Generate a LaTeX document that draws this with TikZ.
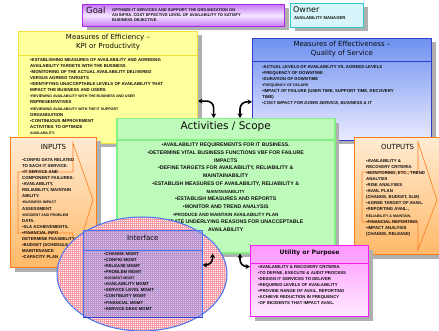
\documentclass[tikz,border=0pt]{standalone}
\usepackage{fontspec}
\setmainfont{Liberation Sans}
\newfontfamily\titlefont{DejaVu Sans}
\usepackage{tikz}
\usetikzlibrary{calc,positioning,shadows,patterns.meta,arrows.meta}
\definecolor{shadowgray}{RGB}{175,175,175}
\definecolor{goalborder}{RGB}{170,40,230}
\definecolor{goaldark}{RGB}{200,120,245}
\definecolor{goallight}{RGB}{245,230,255}
\definecolor{ownerborder}{RGB}{40,200,205}
\definecolor{ownerfill}{RGB}{215,245,250}
\definecolor{effborder}{RGB}{240,225,60}
\definecolor{effyellow}{RGB}{255,255,155}
\definecolor{qosborder}{RGB}{50,60,200}
\definecolor{qostop}{RGB}{110,145,240}
\definecolor{qosbottom}{RGB}{235,235,255}
\definecolor{actborder}{RGB}{130,240,130}
\definecolor{actfill}{RGB}{190,250,185}
\definecolor{ioborder}{RGB}{255,125,30}
\definecolor{iotop}{RGB}{255,235,210}
\definecolor{iobottom}{RGB}{255,185,105}
\definecolor{utilborder}{RGB}{250,30,250}
\definecolor{utiltop}{RGB}{255,150,255}
\definecolor{utilbottom}{RGB}{255,235,255}
\definecolor{ifaceblue}{RGB}{70,115,240}
\definecolor{ifacefill}{RGB}{140,140,240}
\definecolor{hatchred}{RGB}{245,155,165}
\definecolor{headtext}{RGB}{10,10,10}
\definecolor{bodytext}{RGB}{15,15,15}

\begin{document}
\begin{tikzpicture}[x=1pt,y=-1pt,
    box/.style={draw, line width=1pt, inner sep=0pt, anchor=north west,
      drop shadow={shadow xshift=4pt,shadow yshift=-4pt,fill=shadowgray,opacity=1}},
    head/.style={font=\titlefont\fontsize{7}{9}\selectfont, align=center, inner sep=0pt, anchor=north, text=headtext},
    body/.style={font=\fontsize{4.3}{6.1}\selectfont\bfseries, align=left, inner sep=0pt, anchor=north west, text=bodytext},
    dblarrow/.style={{Stealth[length=4.5pt,width=5pt]}-{Stealth[length=4.5pt,width=5pt]}, line width=1.6pt, rounded corners=7pt}
  ]
  \useasboundingbox[fill=white] (0,0) rectangle (439,331);

  % goal and owner
  \node[box, draw=goalborder, top color=goaldark, bottom color=goaldark, middle color=goallight,
    minimum width=202pt, minimum height=22pt] (goal) at (82,4) {};
  \node[font=\titlefont\fontsize{8.5}{9}\selectfont, text=headtext, anchor=west, inner sep=0pt] (goalT) at ([xshift=4pt,yshift=-6pt]goal.north west) {Goal};
  \node[body, font=\fontsize{4}{5}\selectfont\bfseries] (goaltext) at ([xshift=30pt,yshift=-4.5pt]goal.north west)
    {OPTIMIZE IT SERVICES AND SUPPORT THE ORGANIZATION ON\\
     AN INFRA. COST EFFECTIVE LEVEL OF AVAILABILITY TO SATISFY\\
     BUSINESS OBJECTIVE};
  \node[box, draw=ownerborder, fill=ownerfill, minimum width=73pt, minimum height=24pt] (owner) at (290,3) {};
  \node[font=\titlefont\fontsize{8}{9}\selectfont, text=headtext, anchor=west, inner sep=0pt] (ownerT) at ([xshift=3pt,yshift=-6.5pt]owner.north west) {Owner};
  \node[body, font=\fontsize{4.2}{5}\selectfont\bfseries] (ownertext) at ([xshift=4pt,yshift=-13pt]owner.north west) {AVAILABILITY MANAGER};

  % measures of efficiency
  \node[box, draw=effborder, fill=effyellow, minimum width=179pt, minimum height=112pt] (eff) at (18,31) {};
  \draw[effborder, line width=1pt] ([yshift=-25pt]eff.north west) -- ([yshift=-25pt]eff.north east);
  \node[head] (effT) at ([yshift=-3pt]eff.north) {Measures of Efficiency –\\KPI or Productivity};
  \node[body] (efftext) at ([xshift=12pt,yshift=-27pt]eff.north west)
    {•ESTABLISHING MEASURES OF AVAILABILITY AND AGREEING\\
     AVAILABILITY TARGETS WITH THE BUSINESS\\
     •MONITORING OF THE ACTUAL AVAILABILITY DELIVERED\\
     VERSUS AGREED TARGETS\\
     •IDENTIFYING UNACCEPTABLE LEVELS OF AVAILABILITY THAT\\
     IMPACT THE BUSINESS AND USERS\\
     {\fontsize{3.6}{6.1}\selectfont •REVIEWING AVAILABILITY WITH THE BUSINESS AND USER}\\
     REPRESENTATIVES\\
     {\fontsize{3.6}{6.1}\selectfont •REVIEWING AVAILABILITY WITH THE IT SUPPORT}\\
     ORGANISATION\\
     •CONTINUOUS IMPROVEMENT\\
     ACTIVITIES TO OPTIMIZE\\
     {\fontsize{3.6}{6.1}\selectfont AVAILABILITY.}};

  % measures of effectiveness
  \node[box, draw=qosborder, top color=qostop, bottom color=qosbottom, minimum width=179pt, minimum height=102pt] (qos) at (252,38) {};
  \draw[qosborder, line width=0.6pt] ([yshift=-23pt]qos.north west) -- ([yshift=-23pt]qos.north east);
  \node[head] (qosT) at ([yshift=-3pt]qos.north) {Measures of Effectiveness –\\Quality of Service};
  \node[body] (qostext) at ([xshift=10pt,yshift=-27pt]qos.north west)
    {•ACTUAL LEVELS OF AVAILABILITY VS. AGREED LEVELS\\
     •FREQUENCY OF DOWNTIME\\
     •DURATION OF DOWNTIME\\
     {\fontsize{3.6}{6.1}\selectfont •FREQUENCY OF FAILURE}\\
     •IMPACT OF FAILURE (USER TIME, SUPPORT TIME, RECOVERY\\
     TIME)\\
     {\itshape •COST IMPACT FOR DOWN SERVICE, BUSINESS \& IT}};

  % inputs
  \node[box, draw=ioborder, top color=iotop, bottom color=iobottom, minimum width=86pt, minimum height=130pt] (inputs) at (10,137) {};
  \draw[ioborder, line width=0.6pt] (18,172) -- (73,172) -- (73,143) -- (93,200) -- (73,265) -- (73,233) -- (18,233) -- cycle;
  \node[head, font=\titlefont\fontsize{7}{8}\selectfont] (inputsT) at ([yshift=-7pt]inputs.north) {INPUTS};
  \node[body] (inputstext) at ([xshift=12pt,yshift=-21pt]inputs.north west)
    {•CONFIG DATA RELATED\\
     TO EACH IT SERVICE:\\
     •IT SERVICE AND\\
     COMPONENT FAILURES:\\
     •AVAILABILITY,\\
     RELIABILITY, MAINTAIN\\
     ABILITY.\\
     {\fontsize{3.6}{6.1}\selectfont •BUSINESS IMPACT}\\
     ASSESSMENT\\
     {\fontsize{3.6}{6.1}\selectfont •INCIDENT AND PROBLEM}\\
     DATA.\\
     •SLA ACHIEVEMENTS.\\
     •FINANCIAL INFO\\
     DETERMINE FEASIBILITY\\
     •BUDGET (SCHEDULE, IT\\
     MAINTENANCE\\
     •CAPACITY PLAN};

  % outputs
  \node[box, draw=ioborder, top color=iotop, bottom color=iobottom, minimum width=86pt, minimum height=117pt] (outputs) at (354,137) {};
  \draw[ioborder, line width=0.6pt] (362,172) -- (418,172) -- (418,142) -- (437,200) -- (418,250) -- (418,222) -- (362,222) -- cycle;
  \node[head, font=\titlefont\fontsize{7}{8}\selectfont] (outputsT) at ([yshift=-7pt]outputs.north) {OUTPUTS};
  \node[body] (outputstext) at ([xshift=12pt,yshift=-22pt]outputs.north west)
    {•AVAILABILITY \&\\
     RECOVERY CRITERIA\\
     •MONITORING, ETC., TREND\\
     ANALYSIS\\
     •RISK ANALYSES\\
     •AVAIL PLAN\\
     (CHANGE, BUDGET, SLM)\\
     •AGREE TARGET OF AVAIL.\\
     •REPORTING AVAIL.,\\
     {\fontsize{3.6}{6.1}\selectfont RELIABILITY \& MAINTAIN.}\\
     •FINANCIAL REPORTING\\
     •IMPACT ANALYSIS\\
     (CHANGE, RELEASE)};

  % activities / scope
  \node[box, draw=actborder, fill=actfill, line width=1.5pt, minimum width=218pt, minimum height=134pt] (act) at (116,118) {};
  \draw[actborder, line width=1.5pt] ([yshift=-22pt]act.north west) -- ([yshift=-22pt]act.north east);
  \node[head, font=\titlefont\fontsize{10.5}{12}\selectfont] (actT) at ([yshift=-3pt]act.north) {Activities / Scope};
  \node[body, anchor=north, align=center, font=\fontsize{5.2}{7.7}\selectfont\bfseries] (acttext) at ([yshift=-25pt]act.north)
    {•AVAILABILITY REQUIREMENTS FOR IT BUSINESS.\\
     •DETERMINE VITAL BUSINESS FUNCTIONS VBF FOR FAILURE\\
     IMPACTS\\
     •DEFINE TARGETS FOR AVAILABILITY, RELIABILITY \&\\
     MAINTAINABILITY\\
     •ESTABLISH MEASURES OF AVAILABILITY, RELIABILITY \&\\
     {\fontsize{4.4}{7.7}\selectfont MAINTAINABILITY}\\
     •ESTABLISH MEASURES AND REPORTS\\
     •MONITOR AND TREND ANALYSIS\\
     {\fontsize{4.6}{7.7}\selectfont •PRODUCE AND MAINTAIN AVAILABILITY PLAN}\\
     •INVESTIGATE UNDERLYING REASONS FOR UNACCEPTABLE\\
     AVAILABILITY};

  % interface
  \draw[ifaceblue, line width=1pt, preaction={fill=white},
    pattern={Hatch[angle=0,distance=2pt,line width=0.25pt]}, pattern color=hatchred]
    (142,274) ellipse [x radius=85, y radius=57];
  \node[draw=ifaceblue, fill=ifacefill, fill opacity=0.5, line width=0.6pt, inner sep=0pt, anchor=north west,
    minimum width=119pt, minimum height=87pt] (iface) at (83,230) {};
  \draw[ifaceblue, line width=0.6pt] ([yshift=-20pt]iface.north west) -- ([yshift=-20pt]iface.north east);
  \draw[qosborder, line width=1.6pt] (iface.south west) -- (iface.south east);
  \node[head, font=\titlefont\fontsize{7}{8}\selectfont] (ifaceT) at ([yshift=-5pt]iface.north) {Interface};
  \node[body] (ifacetext) at ([xshift=21pt,yshift=-22pt]iface.north west)
    {•CHANGE MGMT\\
     •CONFIG MGMT\\
     •RELEASE MGMT\\
     •PROBLEM MGMT\\
     {\fontsize{3.6}{6.2}\selectfont •INCIDENT MGMT}\\
     •AVAILABILITY MGMT\\
     •SERVICE LEVEL MGMT\\
     •CONTINUITY MGMT\\
     •FINANCIAL MGMT\\
     •SERVICE DESK MGMT};

  % utility or purpose
  \node[box, draw=utilborder, top color=utiltop, bottom color=utilbottom, minimum width=118pt, minimum height=71pt] (util) at (250,245) {};
  \draw[utilborder, line width=0.8pt] ([yshift=-18pt]util.north west) -- ([yshift=-18pt]util.north east);
  \node[head, font=\titlefont\bfseries\fontsize{6}{7}\selectfont] (utilT) at ([yshift=-5pt]util.north) {Utility or Purpose};
  \node[body] (utiltext) at ([xshift=8pt,yshift=-20pt]util.north west)
    {•AVAILABILITY \& RECOVERY CRITERIA\\
     •TO DEFINE, EXECUTE \& AUDIT PROCESS\\
     •DESIGN IT SERVICES TO DELIVER\\
     •REQUIRED LEVELS OF AVAILABILITY\\
     •PROVIDE RANGE OF AVAIL. REPORTING\\
     •ACHIEVE REDUCTION IN FREQUENCY\\
     •OF INCIDENTS THAT IMPACT AVAIL.};

  % links to activities
  \draw[dblarrow] ($(eff.north east)!0.62!(eff.south east)$) -| ($(act.north west)!0.445!(act.north east)$);
  \draw[dblarrow] ($(qos.north west)!0.62!(qos.south west)$) -| ($(act.north west)!0.565!(act.north east)$);
  \draw[dblarrow] ($(iface.north east)!0.4!(iface.south east)$) -| ($(act.south west)!0.44!(act.south east)$);
  \draw[dblarrow] ($(act.south west)!0.565!(act.south east)$) |- ($(util.north west)!0.3!(util.south west)$);
\end{tikzpicture}
\end{document}
